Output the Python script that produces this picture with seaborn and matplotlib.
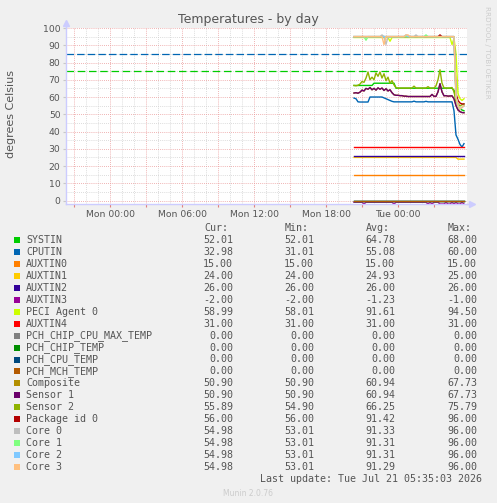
import matplotlib.dates as mdates
import numpy as np
import pandas as pd
import seaborn as sb
from matplotlib import pyplot as plt
from matplotlib.patches import Rectangle
from matplotlib.ticker import FuncFormatter, MultipleLocator

# * sample times: 10 min steps, Mon 20:20 -> Tue 05:30
times = pd.date_range("2026-07-20 20:20", periods=56, freq="10min")

names = [
    "SYSTIN", "CPUTIN", "AUXTIN0", "AUXTIN1", "AUXTIN2", "AUXTIN3", "PECI Agent 0",
    "AUXTIN4", "PCH_CHIP_CPU_MAX_TEMP", "PCH_CHIP_TEMP", "PCH_CPU_TEMP", "PCH_MCH_TEMP",
    "Composite", "Sensor 1", "Sensor 2", "Package id 0", "Core 0", "Core 1", "Core 2", "Core 3",
]
colors = [
    "#00cc00", "#0066b3", "#ff8000", "#ffcc00", "#330099", "#990099", "#ccff00",
    "#ff0000", "#808080", "#008f00", "#00487d", "#b35a00",
    "#b38f00", "#6b006b", "#8fb300", "#b30000", "#bebebe", "#80ff80", "#80c9ff", "#ffc080",
]

# * values
systin = [66.7] * 10 + [68.0] * 11 + [65.1] * 29 + [64.0, 58.0, 55.0, 53.0, 52.5, 52.01]
cputin = (
    [59.4, 59.0, 57.2, 57.1, 57.1, 57.1, 57.1, 57.1]
    + [60.0] * 7
    + [59.5, 59.0, 58.5, 58.0, 57.5]
    + [57.2] * 10 + [57.6] + [57.2] * 5 + [57.5] + [57.2] * 13
    + [52.0, 38.0, 35.5, 32.5, 31.01, 32.98]
)
auxtin0 = [15.0] * 56
auxtin1 = [25.0] * 52 + [24.0] * 4
auxtin2 = [26.0] * 56
auxtin3 = (
    [-1.0] * 5 + [-2.0] + [-1.0] * 14 + [-2.0] + [-1.0] * 16 + [-2.0, -1.0, -2.0]
    + [-1.0] * 3 + [-2.0] * 3 + [-1.0] + [-2.0] * 2 + [-1.0, -2.0, -1.0, -2.0, -2.0, -1.0, -2.0]
)
peci = [94.5] * 18 + [92.3] + [94.5] * 30 + [90.4, 94.0, 85.0, 62.0, 59.0, 58.01, 58.99]
auxtin4 = [31.0] * 56
pch_chip_cpu_max = [0.0] * 56
pch_chip = [0.0] * 56
pch_cpu = [0.0] * 56
pch_mch = [0.0] * 56
sensor1 = (
    [62.3, 62.5, 62.2, 62.8, 64.0, 63.5, 65.0, 64.5, 65.5, 64.2, 65.0, 64.0, 65.3, 64.5,
     65.2, 63.8, 64.8, 63.5, 64.2, 62.5, 61.3]
    + [61.0, 61.0, 60.8, 60.8, 60.5, 60.5, 60.3, 60.3, 60.3]
    + [60.3] * 9 + [61.5, 60.4, 60.4, 63.0, 67.73, 63.0, 60.7, 60.8, 60.5, 60.6, 60.7]
    + [59.0, 55.0, 52.5, 51.5, 51.0, 50.9]
)
composite = list(sensor1)
sensor2 = (
    [66.7, 66.5, 66.8, 67.5, 69.0, 68.5, 71.0, 74.5, 70.0, 71.5, 70.0, 74.0, 72.0, 74.5,
     71.0, 73.5, 69.5, 71.5, 68.0, 69.5, 67.0, 65.5]
    + [65.2] * 8 + [66.3] + [65.2] * 6 + [66.0] + [65.2] * 3
    + [66.5, 70.0, 75.79, 68.0, 65.3] + [65.2] * 3 + [65.5]
    + [63.0, 58.0, 56.0, 54.9, 55.5, 55.89]
)
package0 = [95.0] * 43 + [96.0] + [95.0] * 7 + [62.0, 58.0, 56.5, 56.0, 56.0]
core0 = [95.0] * 14 + [96.0, 95.0, 90.5] + [95.0] * 14 + [96.0] + [95.0] * 19 + [60.0, 55.0, 53.01, 54.0, 54.98]
core1 = [95.0] * 6 + [92.9] + [95.0] * 29 + [96.0] + [95.0] * 14 + [60.0, 55.0, 53.01, 54.0, 54.98]
core2 = [95.0] * 26 + [96.0] + [95.0] * 24 + [60.0, 55.0, 53.01, 54.0, 54.98]
core3 = [95.0] * 15 + [90.4] + [95.0] * 10 + [96.0, 96.0] + [95.0] * 23 + [60.0, 55.0, 53.01, 54.0, 54.98]

series = [
    systin, cputin, auxtin0, auxtin1, auxtin2, auxtin3, peci, auxtin4,
    pch_chip_cpu_max, pch_chip, pch_cpu, pch_mch, composite, sensor1, sensor2,
    package0, core0, core1, core2, core3,
]

# * legend table values
cur_vals = ["52.01", "32.98", "15.00", "24.00", "26.00", "-2.00", "58.99", "31.00", "0.00", "0.00",
            "0.00", "0.00", "50.90", "50.90", "55.89", "56.00", "54.98", "54.98", "54.98", "54.98"]
min_vals = ["52.01", "31.01", "15.00", "24.00", "26.00", "-2.00", "58.01", "31.00", "0.00", "0.00",
            "0.00", "0.00", "50.90", "50.90", "54.90", "56.00", "53.01", "53.01", "53.01", "53.01"]
avg_vals = ["64.78", "55.08", "15.00", "24.93", "26.00", "-1.23", "91.61", "31.00", "0.00", "0.00",
            "0.00", "0.00", "60.94", "60.94", "66.25", "91.42", "91.33", "91.31", "91.31", "91.29"]
max_vals = ["68.00", "60.00", "15.00", "25.00", "26.00", "-1.00", "94.50", "31.00", "0.00", "0.00",
            "0.00", "0.00", "67.73", "67.73", "75.79", "96.00", "96.00", "96.00", "96.00", "96.00"]

cputin_limit = 85
systin_limit = 75

W, H = 497, 503
TXT = "#555555"

df = pd.DataFrame({"time": times, **dict(zip(names, series))})
df = df.melt(id_vars="time", var_name="sensor", value_name="temp")

fig = plt.figure(figsize=(W / 100, H / 100), dpi=100, facecolor="#f0f0f0")
ax = fig.add_axes([66 / W, 1 - 204 / H, 401 / W, 176 / H])
ax.set_facecolor("white")

# * grid
ax.xaxis.set_major_locator(mdates.HourLocator(byhour=range(0, 24, 3)))
ax.xaxis.set_minor_locator(mdates.HourLocator())
ax.yaxis.set_major_locator(MultipleLocator(10))
ax.yaxis.set_minor_locator(MultipleLocator(5))
ax.grid(which="minor", color="#d0d0d0", linestyle=(0, (1, 1.5)), linewidth=0.6)
ax.grid(which="major", color="#eb9a9a", linestyle=(0, (1, 1.5)), linewidth=0.6)
ax.set_axisbelow(True)

# * threshold rules
ax.axhline(cputin_limit, color="#0066b3", linestyle=(0, (6, 2.5)), linewidth=0.9)
ax.axhline(systin_limit, color="#00cc00", linestyle=(0, (6, 3)), linewidth=0.9)

sb.lineplot(
    data=df, x="time", y="temp", hue="sensor", hue_order=names,
    palette=dict(zip(names, colors)), linewidth=1.0, legend=False,
    estimator=None, ax=ax,
)

ax.set_xlim(pd.Timestamp("2026-07-19 20:20"), pd.Timestamp("2026-07-21 05:45"))
ax.set_ylim(-2, 100)


def fmt_time(x, pos):
    d = mdates.num2date(x)
    return d.strftime("%a %H:%M") if d.hour % 6 == 0 else ""


ax.xaxis.set_major_formatter(FuncFormatter(fmt_time))
ax.set_xlabel("")
ax.set_ylabel("")
ax.tick_params(axis="x", which="major", length=2.5, color="#e08080", labelsize=6.7,
               labelcolor=TXT, pad=1.5)
ax.tick_params(axis="y", which="major", length=2, color="#c8c8c8", labelsize=6.7,
               labelcolor=TXT, pad=2)
ax.tick_params(which="minor", length=0)

for s in ["top", "right"]:
    ax.spines[s].set_visible(False)
for s in ["left", "bottom"]:
    ax.spines[s].set_color("#ccccff")
    ax.spines[s].set_linewidth(1)

# * axis arrows
ax.plot([1.0, 1.012], [0, 0], color="#ccccff", lw=1, transform=ax.transAxes, clip_on=False)
ax.plot([1.012], [0], marker=">", color="#ccccff", ms=4, transform=ax.transAxes, clip_on=False)
ax.plot([0, 0], [1.0, 1.03], color="#ccccff", lw=1, transform=ax.transAxes, clip_on=False)
ax.plot([0], [1.03], marker="^", color="#ccccff", ms=4, transform=ax.transAxes, clip_on=False)

# * titles
fig.text(248.5 / W, 1 - 20 / H, "Temperatures - by day", ha="center", va="center",
         fontsize=9, color=TXT)
fig.text(11 / W, 1 - 114 / H, "degrees Celsius", ha="center", va="center",
         rotation=90, fontsize=8, color=TXT)
fig.text(487 / W, 1 - 52 / H, "RRDTOOL / TOBI OETIKER", ha="center", va="center",
         rotation=270, fontsize=5.2, color="#cccccc")

# * legend table
mono = "DejaVu Sans Mono"
col_right = [233, 314, 395, 477]
for x, head in zip(col_right, ["Cur:", "Min:", "Avg:", "Max:"]):
    fig.text((x - 5) / W, 1 - 228 / H, head, ha="right", va="center",
             fontsize=7.2, family=mono, color=TXT)

for i, name in enumerate(names):
    y = 239.7 + i * 11.98
    fig.add_artist(Rectangle((14 / W, 1 - (y + 3) / H), 6 / W, 6 / H,
                             transform=fig.transFigure, facecolor=colors[i], edgecolor="none"))
    fig.text(26 / W, 1 - y / H, name, ha="left", va="center", fontsize=7.2,
             family=mono, color=TXT)
    for x, vals in zip(col_right, [cur_vals, min_vals, avg_vals, max_vals]):
        fig.text(x / W, 1 - y / H, vals[i], ha="right", va="center", fontsize=7.2,
                 family=mono, color=TXT)

fig.text(482 / W, 1 - 479 / H, "Last update: Tue Jul 21 05:35:03 2026", ha="right",
         va="center", fontsize=7.2, family=mono, color=TXT)
fig.text(248 / W, 1 - 493 / H, "Munin 2.0.76", ha="center", va="center",
         fontsize=5.5, color="#cccccc")

fig.savefig("out.png", dpi=100, facecolor=fig.get_facecolor())
plt.close(fig)
